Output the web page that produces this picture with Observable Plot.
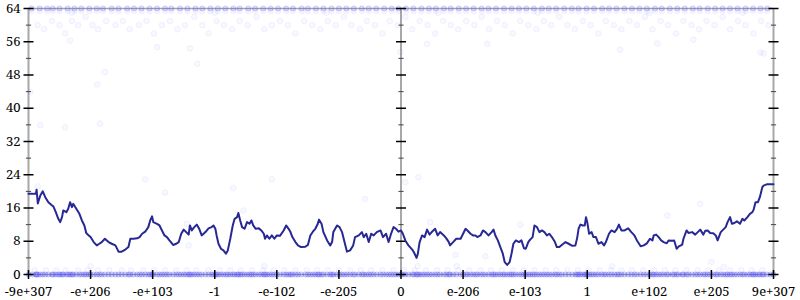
<!DOCTYPE html>
<html>
<head>
<meta charset="utf-8">
<script src="https://cdn.jsdelivr.net/npm/d3@7"></script>
<script src="https://cdn.jsdelivr.net/npm/@observablehq/plot@0.6"></script>
<style>
  html, body { margin: 0; padding: 0; background: #fff; }
  #chart svg { display: block; }
  #chart svg text { font-family: "Noto Serif", "DejaVu Serif", "Liberation Serif", serif; }
</style>
</head>
<body>
<div id="chart"></div>
<script>
// ---------- data ----------
const xLabels = ["-9e+307","-e+206","-e+103","-1","-e-102","-e-205","0","e-206","e-103","1","e+102","e+205","9e+307"];
const yMajor = [0, 8, 16, 24, 32, 40, 48, 56, 64];
const yMinor = [4, 12, 20, 28, 36, 44, 52, 60];
const axisXs = [-6, 0, 6];

// moving-average line (x in label-index units, centre = 0)
const lineX = [-6.00,-5.93,-5.88,-5.87,-5.85,-5.81,-5.77,-5.73,-5.68,-5.62,-5.60,-5.56,-5.52,-5.49,-5.46,-5.44,-5.39,-5.36,-5.33,-5.30,-5.28,-5.23,-5.18,-5.14,-5.10,-5.07,-5.03,-5.00,-4.95,-4.90,-4.86,-4.82,-4.77,-4.71,-4.66,-4.60,-4.55,-4.50,-4.44,-4.39,-4.36,-4.31,-4.25,-4.21,-4.17,-4.12,-4.07,-4.04,-4.01,-3.99,-3.93,-3.89,-3.85,-3.81,-3.77,-3.73,-3.67,-3.62,-3.58,-3.54,-3.50,-3.46,-3.42,-3.40,-3.37,-3.33,-3.29,-3.25,-3.21,-3.15,-3.10,-3.05,-3.02,-2.99,-2.97,-2.94,-2.90,-2.86,-2.82,-2.79,-2.75,-2.71,-2.68,-2.64,-2.62,-2.59,-2.56,-2.52,-2.48,-2.44,-2.41,-2.38,-2.34,-2.29,-2.25,-2.21,-2.19,-2.16,-2.12,-2.08,-2.04,-2.00,-1.95,-1.89,-1.85,-1.81,-1.78,-1.75,-1.70,-1.66,-1.61,-1.54,-1.50,-1.46,-1.42,-1.38,-1.34,-1.32,-1.28,-1.25,-1.19,-1.14,-1.11,-1.09,-1.03,-0.99,-0.95,-0.91,-0.87,-0.82,-0.77,-0.74,-0.68,-0.63,-0.60,-0.56,-0.52,-0.48,-0.44,-0.39,-0.33,-0.29,-0.24,-0.20,-0.16,-0.12,-0.08,-0.04,0.00,0.03,0.07,0.12,0.18,0.21,0.25,0.27,0.30,0.34,0.38,0.42,0.46,0.50,0.55,0.59,0.63,0.69,0.73,0.77,0.79,0.84,0.89,0.96,1.00,1.04,1.07,1.12,1.16,1.20,1.23,1.28,1.32,1.36,1.41,1.46,1.49,1.52,1.56,1.60,1.64,1.67,1.71,1.75,1.78,1.81,1.85,1.90,1.94,1.98,2.01,2.05,2.08,2.12,2.15,2.19,2.23,2.27,2.31,2.35,2.39,2.43,2.48,2.51,2.55,2.59,2.65,2.70,2.76,2.81,2.84,2.86,2.89,2.93,2.96,2.98,3.00,3.03,3.07,3.10,3.14,3.18,3.23,3.27,3.30,3.35,3.39,3.44,3.48,3.51,3.55,3.60,3.66,3.71,3.76,3.80,3.86,3.91,3.96,4.01,4.05,4.07,4.11,4.15,4.19,4.23,4.28,4.31,4.37,4.40,4.44,4.47,4.53,4.55,4.60,4.63,4.69,4.74,4.78,4.82,4.87,4.90,4.94,4.98,5.03,5.07,5.10,5.15,5.19,5.23,5.26,5.30,5.33,5.37,5.41,5.46,5.50,5.53,5.58,5.62,5.66,5.68,5.71,5.75,5.78,5.82,5.84,5.89,5.95,6.00];
const lineY = [19.4,19.4,19.5,20.4,17.1,19.0,20.0,18.6,17.4,16.6,16.4,15.0,13.4,12.6,13.8,15.4,15.0,15.8,17.4,16.2,17.0,15.8,14.6,13.0,11.8,10.0,9.4,9.0,7.8,7.0,7.4,7.8,8.6,7.8,7.4,7.0,5.5,5.5,6.0,6.6,8.6,8.6,8.7,9.0,9.8,10.3,11.4,13.0,14.0,12.6,12.2,11.8,10.6,9.4,9.0,8.2,7.1,7.4,7.8,9.8,10.8,10.2,9.6,11.8,10.6,11.4,12.0,11.0,9.4,10.2,11.1,11.4,11.8,11.0,9.4,7.4,6.2,5.8,5.0,5.8,8.6,11.8,13.4,13.8,14.8,13.0,11.4,11.0,12.6,12.2,13.0,11.8,11.0,11.1,10.6,9.8,8.6,9.4,8.6,9.4,8.6,9.4,9.3,10.6,11.8,11.0,10.2,9.0,7.8,7.0,6.6,6.7,7.1,9.4,10.3,11.0,12.2,13.2,12.2,10.2,8.2,7.0,7.8,10.2,11.8,11.4,10.2,7.8,5.5,5.8,7.0,9.0,9.4,10.2,9.0,9.8,7.8,9.8,9.4,10.2,10.6,9.0,9.8,7.8,9.8,11.4,11.0,10.3,10.6,9.8,8.2,7.0,6.0,5.3,4.0,4.9,7.8,9.4,9.0,10.8,9.6,10.3,11.0,9.4,10.2,9.4,8.7,7.8,7.0,7.8,8.6,8.6,9.8,11.0,10.6,9.8,9.4,9.4,9.0,9.4,10.6,10.2,9.4,10.2,10.8,9.4,8.2,6.6,5.0,3.0,2.3,3.0,5.0,7.4,8.2,7.8,8.2,6.3,6.2,7.8,8.4,9.0,11.8,11.4,10.2,10.6,10.2,9.4,9.8,9.0,7.8,6.6,6.6,7.1,7.8,7.4,6.9,7.0,9.0,11.0,12.0,11.8,11.8,13.8,12.6,9.8,10.2,9.0,9.0,7.4,7.8,7.0,7.8,9.8,10.6,10.2,11.0,12.0,10.6,10.6,11.1,10.2,9.4,8.2,6.8,7.0,7.5,8.6,8.2,9.4,9.6,9.0,8.2,7.8,7.5,8.2,8.1,8.2,6.2,6.7,7.2,8.6,10.6,10.0,10.2,9.6,10.2,10.8,9.6,10.5,10.6,10.0,9.9,9.4,8.2,10.2,10.8,11.4,12.6,13.8,12.2,12.4,12.8,12.2,13.4,13.0,13.8,14.6,15.0,15.6,17.4,17.4,18.6,21.0,21.4,21.7,21.7,21.7];

// raw samples (faint points)
const rowOneX = [-5.9,-5.72,-5.55,-5.4,-5.2,-5.05,-4.88,-4.7,-4.5,-4.35,-4.15,-3.98,-3.8,-3.62,-3.45,-3.3,-3.1,-2.92,-2.75,-2.58,-2.4,-2.22,-2.05,-1.88,-1.7,-1.52,-1.35,-1.18,-1.0,-0.82,-0.65,-0.48,-0.3,-0.12,0.05,0.22,0.4,0.58,0.75,0.92,1.1,1.28,1.45,1.62,1.8,1.98,2.15,2.33,2.5,2.68,2.85,3.02,3.2,3.38,3.55,3.72,3.9,4.08,4.25,4.42,4.6,4.78,4.95,5.12,5.3,5.48,5.65,5.82];
const rowTopX = [-5.95,-5.82,-5.7,-5.61,-5.5,-5.37,-5.26,-5.15,-5.02,-4.9,-4.8,-4.66,-4.55,-4.41,-4.3,-4.18,-4.05,-3.93,-3.8,-3.7,-3.56,-3.44,-3.31,-3.2,-3.07,-2.95,-2.83,-2.7,-2.6,-2.46,-2.35,-2.22,-2.1,-1.98,-1.85,-1.74,-1.6,-1.5,-1.37,-1.25,-1.12,-1.0,-0.88,-0.76,-0.63,-0.52,-0.4,-0.27,-0.15,-0.04,0.08,0.2,0.33,0.45,0.56,0.69,0.8,0.93,1.05,1.17,1.3,1.41,1.53,1.66,1.78,1.9,2.02,2.14,2.27,2.38,2.5,2.63,2.75,2.86,2.99,3.11,3.24,3.35,3.47,3.6,3.72,3.84,3.96,4.09,4.2,4.33,4.45,4.57,4.7,4.81,4.94,5.06,5.18,5.3,5.42,5.55,5.67,5.79,5.9];
const nearTopX = [-5.85,-5.75,-5.62,-5.5,-5.41,-5.3,-5.2,-5.08,-4.97,-4.88,-4.75,-4.6,-4.48,-4.37,-4.22,-4.1,-3.98,-3.85,-3.72,-3.6,-3.48,-3.33,-3.2,-3.1,-2.97,-2.85,-2.72,-2.6,-2.47,-2.33,-2.2,-2.08,-1.95,-1.82,-1.7,-1.56,-1.43,-1.3,-1.18,-1.05,-0.92,-0.8,-0.66,-0.55,-0.42,-0.3,-0.18,-0.05,0.07,0.18,0.3,0.43,0.55,0.68,0.8,0.92,1.05,1.18,1.3,1.42,1.55,1.67,1.8,1.92,2.05,2.18,2.3,2.42,2.55,2.68,2.8,2.93,3.05,3.18,3.3,3.43,3.55,3.68,3.8,3.93,4.05,4.18,4.3,4.43,4.55,4.68,4.8,4.92,5.05,5.18,5.3,5.43,5.55,5.68,5.8,5.92,-5.3,-3.0,-1.2,0.6,2.2,4.0,5.5];
const nearTopY = [60,59,61,60,58,61,60,62,60,59,61,60,61,59,60,61,58,60,61,59,60,62,60,58,61,60,59,61,60,62,59,60,61,60,58,61,60,59,61,60,62,60,59,61,60,58,61,60,62,59,61,60,58,61,60,59,61,60,62,59,61,60,58,61,60,59,61,60,62,60,59,61,60,58,61,60,59,61,60,62,59,61,60,58,61,60,59,61,60,62,59,61,60,58,61,60,63,63,63,63,63,63,63];
const sparseX = [-5.81,-5.41,-4.85,-4.12,-5.85,-4.77,-4.89,-5.33,-3.93,-3.40,-3.28,-5.97,-3.80,-2.08,-2.70,-2.54,-3.42,-3.45,-0.58,0.28,0.07,0.47,0.88,1.36,0.27,1.92,4.82,4.29,5.20,-0.01,0.42,1.39,4.13,3.53,5.79,5.84,4.71,-5.0,-2.2,0.9,3.4,5.0];
const sparseY = [35.9,35.4,36.3,22.9,21.2,48.7,45.7,56.3,54.7,54.4,50.7,43.9,19.7,22.9,20.8,15.4,7.0,12.2,18.2,23.4,22.2,12.6,4.7,4.4,2.0,12.0,17.0,14.2,1.8,53.5,55.5,55.5,55.6,54.1,53.4,53.2,56.5,2,2,2,2,3];

// ---------- build tables ----------
const line = lineX.map((x, i) => ({x, y: lineY[i]}));
const rowZero = lineX.map(x => ({x, y: 0}));
const rowTop = rowTopX.map(x => ({x, y: 64}));
const scattered = [
  ...rowOneX.map(x => ({x, y: 1})),
  ...rowTopX.map(x => ({x, y: 63.4})),
  ...nearTopX.map((x, i) => ({x, y: nearTopY[i]})),
  ...sparseX.map((x, i) => ({x, y: sparseY[i]}))
];
const xTicks = xLabels.map((label, i) => ({pos: i - 6, label}));
const cross = (xs, ys) => xs.flatMap(x => ys.map(y => ({x, y})));
const majorTicks = cross(axisXs, yMajor);
const minorTicks = cross(axisXs, yMinor);

// custom tick symbols (pixel-length)
const hTick = {draw(ctx, size) { const r = Math.sqrt(size / Math.PI); ctx.moveTo(-r, 0); ctx.lineTo(r, 0); }};
const vTick = {draw(ctx, size) { const r = Math.sqrt(size / Math.PI); ctx.moveTo(0, -r); ctx.lineTo(0, r); }};

const font = "Noto Serif, DejaVu Serif, Liberation Serif, serif";
const fs = 13;
const dotColor = "#3434ff";

const chart = Plot.plot({
  width: 800,
  height: 300,
  marginLeft: 28,
  marginRight: 27,
  marginTop: 8,
  marginBottom: 26,
  x: {domain: [-6, 6], axis: null},
  y: {domain: [0, 64], axis: null},
  style: {fontFamily: font, background: "#fff"},
  marks: [
    Plot.ruleX(axisXs, {stroke: "#a8a8a8", strokeWidth: 2}),
    Plot.ruleY([64, 0], {stroke: "#a8a8a8", strokeWidth: 1.5}),
    Plot.dot(scattered, {x: "x", y: "y", r: 2.8, fill: dotColor, fillOpacity: 0.035, stroke: dotColor, strokeOpacity: 0.08, strokeWidth: 0.8}),
    Plot.dot(rowTop, {x: "x", y: "y", r: 2.6, fill: dotColor, fillOpacity: 0.12, stroke: dotColor, strokeOpacity: 0.25, strokeWidth: 0.8}),
    Plot.dot(rowZero, {x: "x", y: "y", r: 2.6, fill: dotColor, fillOpacity: 0.16, stroke: dotColor, strokeOpacity: 0.28, strokeWidth: 0.8}),
    Plot.dot(minorTicks, {x: "x", y: "y", symbol: hTick, r: 2.6, stroke: "#444", strokeWidth: 1, fill: "none"}),
    Plot.dot(majorTicks, {x: "x", y: "y", symbol: hTick, r: 5, stroke: "#000", strokeWidth: 1.5, fill: "none"}),
    Plot.dot(xTicks, {x: "pos", y: 0, symbol: vTick, r: 4.5, stroke: "#000", strokeWidth: 1.5, fill: "none"}),
    Plot.line(line, {x: "x", y: "y", stroke: "#282894", strokeWidth: 2, strokeLinejoin: "round"}),
    Plot.text(yMajor, {x: -6, y: d => d, text: d => String(d), textAnchor: "end", dx: -8, fontSize: fs, fontFamily: font, fill: "#000"}),
    Plot.text(xTicks, {x: "pos", y: 0, text: "label", dy: 17, fontSize: fs, fontFamily: font, fill: "#000"})
  ]
});
document.getElementById("chart").appendChild(chart);
</script>
</body>
</html>
